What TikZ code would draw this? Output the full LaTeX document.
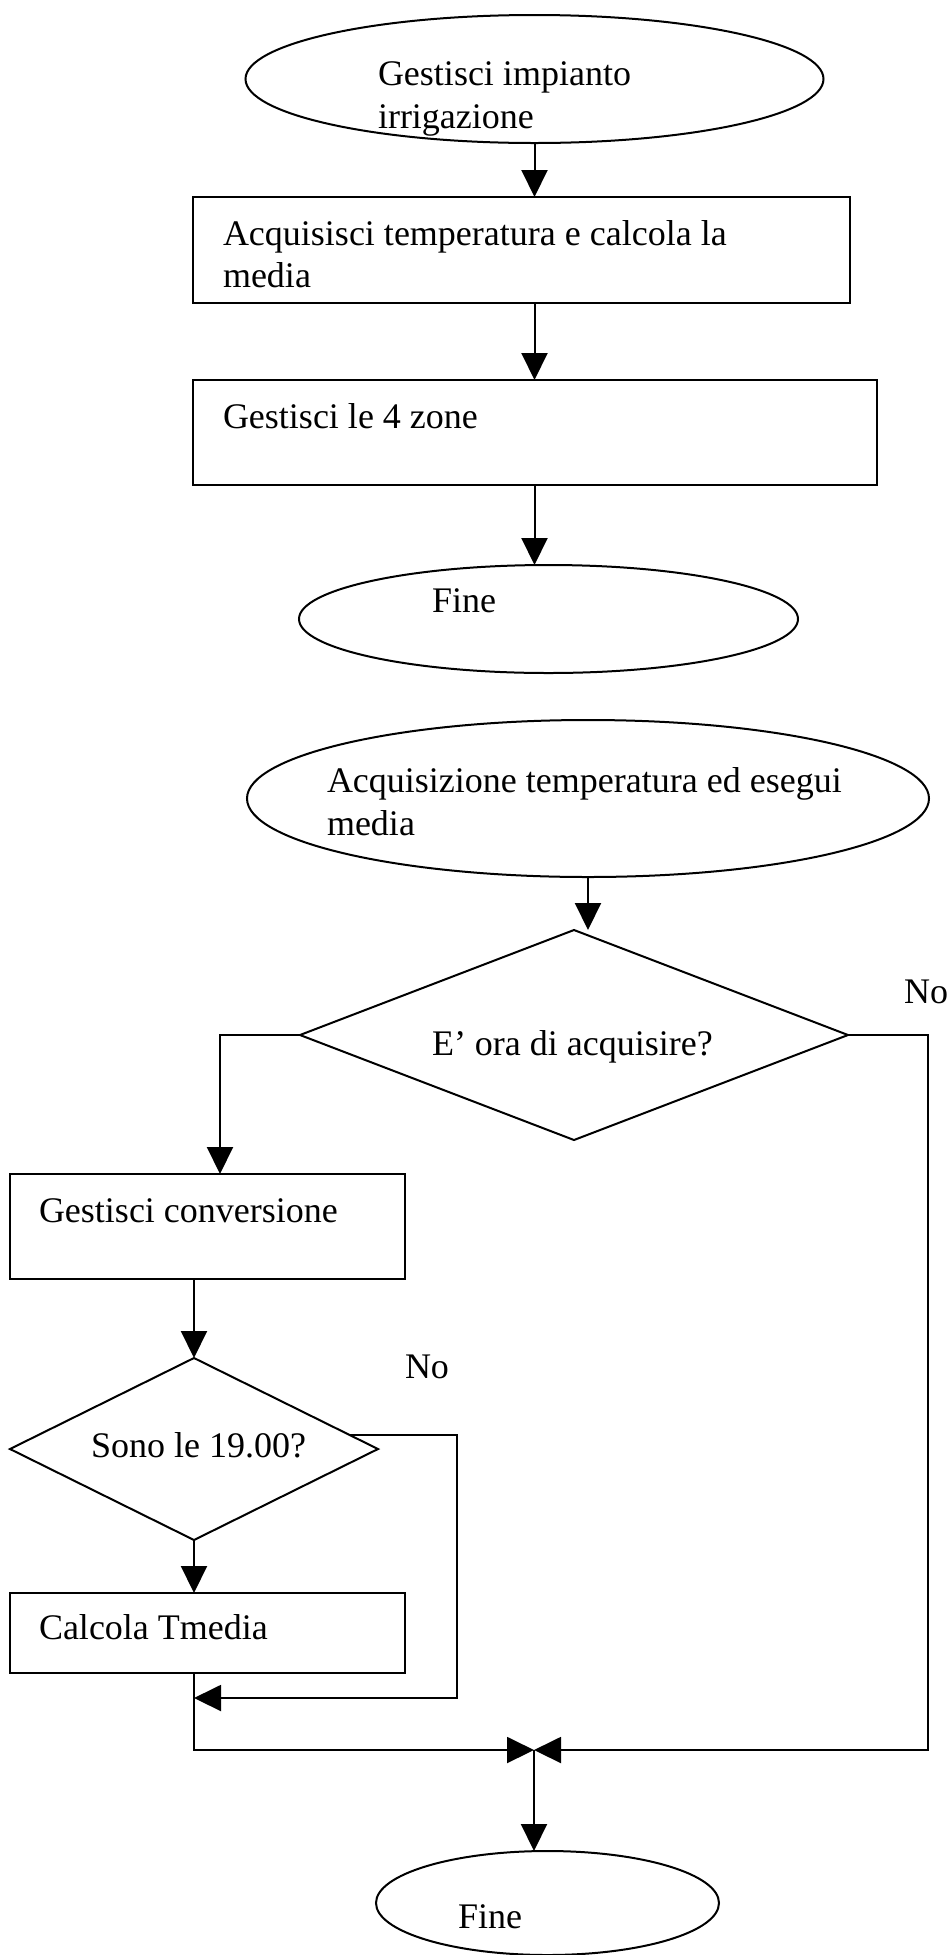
\documentclass[tikz,border=0pt]{standalone}
\usepackage{fontspec}
\setmainfont{Liberation Serif}
\usetikzlibrary{shapes.geometric,arrows.meta}
\begin{document}
\begin{tikzpicture}[x=1pt,y=-1pt,
  every node/.style={inner sep=0pt, outer sep=0pt},
  box/.style={draw, line width=2.4pt, rectangle},
  oval/.style={draw, line width=2pt, ellipse},
  dia/.style={draw, line width=2pt, diamond},
  lbl/.style={anchor=base west, font=\fontsize{36pt}{43pt}\selectfont},
  flow/.style={line width=2pt, -{Triangle[length=27pt,width=26pt]}}]
\useasboundingbox[fill=white] (0,0) rectangle (951,1955);

% upper chart
\node[oval, minimum width=578pt, minimum height=128pt] (e1) at (534.5,79) {};
\node[box, minimum width=657pt, minimum height=106pt] (r1) at (521.5,250) {};
\node[box, minimum width=684pt, minimum height=105pt] (r2) at (535,432.5) {};
\node[oval, minimum width=499pt, minimum height=108pt] (f1) at (548.5,619) {};

\node[lbl] (t1a) at (378,85) {Gestisci impianto};
\node[lbl] (t1b) at (378,128) {irrigazione};
\node[lbl] (t2a) at (223,245) {Acquisisci temperatura e calcola la};
\node[lbl] (t2b) at (223,287) {media};
\node[lbl] (t3) at (223,428) {Gestisci le 4 zone};
\node[lbl] (t4) at (432,612) {Fine};

\draw[flow] (e1.south) -- (e1.south |- r1.north);
\draw[flow] (e1.south |- r1.south) -- (e1.south |- r2.north);
\draw[flow] (e1.south |- r2.south) -- (e1.south |- f1.north);

% lower chart
\node[oval, minimum width=682pt, minimum height=157pt] (e2) at (588,798.5) {};
\node[dia, minimum width=548pt, minimum height=210pt] (d1) at (574,1035) {};
\node[box, minimum width=395pt, minimum height=105pt] (r3) at (207.5,1226.5) {};
\node[dia, minimum width=368pt, minimum height=182pt] (d2) at (194,1449) {};
\node[box, minimum width=395pt, minimum height=80pt] (r4) at (207.5,1633) {};
\node[oval, minimum width=343pt, minimum height=104pt] (f2) at (547.5,1903) {};

\node[lbl] (t5a) at (327,792) {Acquisizione temperatura ed esegui};
\node[lbl] (t5b) at (327,835) {media};
\node[lbl] (t6) at (432,1055) {E’ ora di acquisire?};
\node[lbl] (no1) at (904,1003) {No};
\node[lbl] (t7) at (39,1222) {Gestisci conversione};
\node[lbl] (no2) at (405,1378) {No};
\node[lbl] (t8) at (91,1457) {Sono le 19.00?};
\node[lbl] (t9) at (39,1639) {Calcola Tmedia};
\node[lbl] (t10) at (458,1928) {Fine};

\coordinate (j) at (534,1750);
\coordinate (jr) at (928,1750);
\coordinate (lp) at (457,1698);

\draw[flow] (e2.south) -- (e2.south |- d1.north);
\draw[flow] (d1.west) -| ([xshift=12.5pt]r3.north);
\draw[flow] (d1.east) -| (jr) -- (j);
\draw[flow] (d2.north |- r3.south) -- (d2.north);
\draw[flow] (d2.south) -- (d2.south |- r4.north);
\draw[flow] (d2.5) -| (lp) -- (lp -| d2.south);
\draw[flow] (d2.south |- r4.south) |- (j);
\draw[flow] (j) -- (j |- f2.north);
\end{tikzpicture}
\end{document}
